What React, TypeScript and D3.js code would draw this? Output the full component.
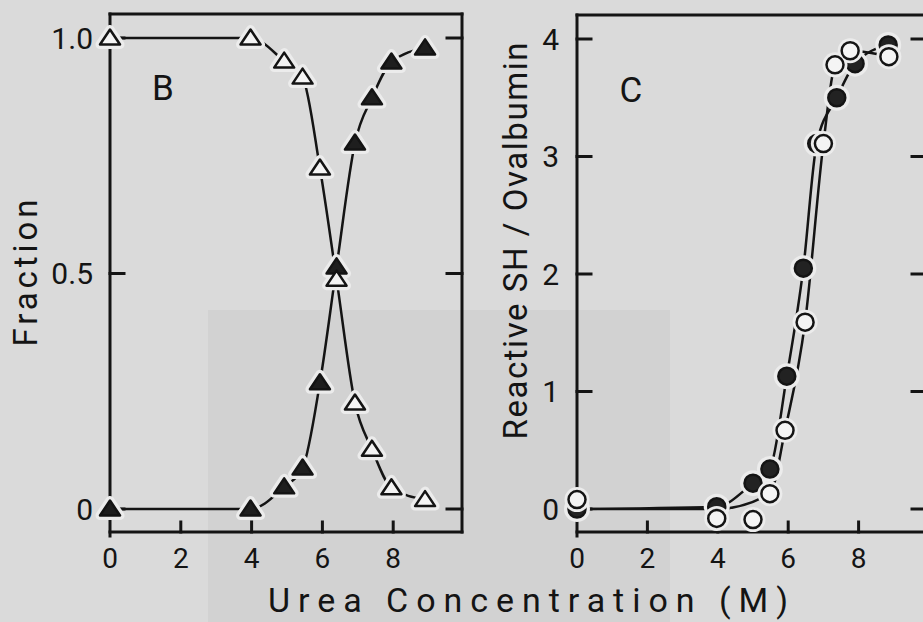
import React from "react";
import * as d3 from "d3";

const W = 923;
const H = 622;

// Panel B data (fraction vs urea)
const bX = [0, 3.97, 4.92, 5.44, 5.93, 6.4, 6.92, 7.4, 7.95, 8.9];
const bOpen = [1.0, 1.0, 0.951, 0.917, 0.724, 0.488, 0.225, 0.127, 0.045, 0.02];
const bFilled = [0, 0, 0.047, 0.087, 0.268, 0.514, 0.777, 0.873, 0.949, 0.979];

// Panel C data (reactive SH per ovalbumin)
const cFilledX = [0, 3.97, 5.0, 5.48, 5.96, 6.43, 6.81, 7.38, 7.9, 8.84];
const cFilled = [0, 0.02, 0.22, 0.34, 1.13, 2.05, 3.11, 3.5, 3.79, 3.95];
const cOpenX = [0, 3.97, 5.0, 5.48, 5.91, 6.48, 7.0, 7.33, 7.76, 8.86];
const cOpen = [0.08, -0.08, -0.09, 0.13, 0.67, 1.59, 3.11, 3.78, 3.9, 3.85];
// hand-drawn fit line for open circles
const cOpenLineX = [0, 3.97, 5.48, 5.91, 6.48, 7.0, 7.33, 7.76, 8.86];
const cOpenLine = [0, 0, 0.13, 0.67, 1.59, 3.11, 3.78, 3.9, 3.85];

const xTicks = [0, 2, 4, 6, 8];
const bYTicks = [0, 0.5, 1.0];
const bYTickLabels = ["0", "0.5", "1.0"];
const cYTicks = [0, 1, 2, 3, 4];

const FONT = "Roboto, 'DejaVu Sans', sans-serif";
const INK = "#141414";
const HALO = "#ececec";

function tri(cx: number, cy: number) {
  return `M${cx},${cy - 8.5} L${cx + 10},${cy + 6.5} L${cx - 10},${cy + 6.5} Z`;
}

export default function App() {
  const xB = d3.scaleLinear().domain([0, 10]).range([110, 464]);
  const yB = d3.scaleLinear().domain([0, 1]).range([509, 38]);
  const xC = d3.scaleLinear().domain([0, 10]).range([577, 929]);
  const yC = d3.scaleLinear().domain([0, 4]).range([509, 39]);

  const frameTop = 14;
  const frameBottom = 532;
  const bRight = 462;

  const lineB = d3
    .line<[number, number]>()
    .x((d) => xB(d[0]))
    .y((d) => yB(d[1]))
    .curve(d3.curveMonotoneX);
  const lineC = d3
    .line<[number, number]>()
    .x((d) => xC(d[0]))
    .y((d) => yC(d[1]))
    .curve(d3.curveMonotoneX);

  const bOpenPts: [number, number][] = bX.map((x, i) => [x, bOpen[i]]);
  const bFilledPts: [number, number][] = bX.map((x, i) => [x, bFilled[i]]);
  const cFilledPts: [number, number][] = cFilledX.map((x, i) => [x, cFilled[i]]);
  const cOpenPts: [number, number][] = cOpenX.map((x, i) => [x, cOpen[i]]);
  const cOpenLinePts: [number, number][] = cOpenLineX.map((x, i) => [x, cOpenLine[i]]);

  return (
    <div style={{ position: "fixed", left: 0, top: 0, width: W, height: H }}>
      <svg width={W} height={H} style={{ display: "block" }}>
        <rect x={0} y={0} width={W} height={H} fill="#dadada" />
        <rect x={208} y={310} width={462} height={312} fill="#d2d2d2" />

        {/* ===== Panel B ===== */}
        <g stroke={INK} strokeWidth={3} fill="none" strokeLinecap="square">
          <line x1={xB(0)} y1={frameTop} x2={xB(0)} y2={frameBottom + 4} />
          <line x1={xB(0)} y1={frameTop} x2={bRight} y2={frameTop} />
          <line x1={bRight} y1={frameTop} x2={bRight} y2={frameBottom} />
          <line x1={xB(0)} y1={frameBottom} x2={bRight} y2={frameBottom} />
          {xTicks.filter((t) => t > 0).map((t) => (
            <line key={t} x1={xB(t)} y1={frameBottom} x2={xB(t)} y2={frameBottom - 10} />
          ))}
          {bYTicks.map((t) => (
            <g key={t}>
              <line x1={xB(0)} y1={yB(t)} x2={xB(0) + 14} y2={yB(t)} />
              <line x1={bRight} y1={yB(t)} x2={bRight - 15} y2={yB(t)} />
            </g>
          ))}
        </g>
        <g fontFamily={FONT} fill={INK}>
          {bYTicks.map((t, i) => (
            <text key={t} x={93} y={yB(t)} dy="0.36em" textAnchor="end" fontSize={30}>
              {bYTickLabels[i]}
            </text>
          ))}
          {xTicks.map((t) => (
            <text key={t} x={xB(t)} y={568} textAnchor="middle" fontSize={28}>
              {t}
            </text>
          ))}
          <text x={163} y={100} textAnchor="middle" fontSize={35}>B</text>
          <text
            transform={`translate(37,273) rotate(-90)`}
            textAnchor="middle"
            fontSize={33}
            textLength={147}
            lengthAdjust="spacing"
          >
            Fraction
          </text>
        </g>
        <path d={lineB(bOpenPts) || ""} fill="none" stroke={INK} strokeWidth={2.5} />
        <path d={lineB(bFilledPts) || ""} fill="none" stroke={INK} strokeWidth={2.5} />
        {bFilledPts.map((p, i) => (
          <path key={"bfh" + i} d={tri(xB(p[0]), yB(p[1]))} fill={HALO} stroke={HALO} strokeWidth={9} strokeLinejoin="round" />
        ))}
        {bOpenPts.map((p, i) => (
          <path key={"boh" + i} d={tri(xB(p[0]), yB(p[1]))} fill={HALO} stroke={HALO} strokeWidth={9} strokeLinejoin="round" />
        ))}
        {bFilledPts.map((p, i) => (
          <path key={"bf" + i} d={tri(xB(p[0]), yB(p[1]))} fill="#1e1e1e" stroke={INK} strokeWidth={2.5} strokeLinejoin="round" />
        ))}
        {bOpenPts.map((p, i) => (
          <path key={"bo" + i} d={tri(xB(p[0]), yB(p[1]))} fill="#f4f4f4" stroke={INK} strokeWidth={2.5} strokeLinejoin="round" />
        ))}

        {/* ===== Panel C ===== */}
        <g stroke={INK} strokeWidth={3} fill="none" strokeLinecap="square">
          <line x1={xC(0)} y1={frameTop + 1} x2={xC(0)} y2={frameBottom + 4} />
          <line x1={xC(0)} y1={frameTop + 1} x2={W + 5} y2={frameTop + 1} />
          <line x1={xC(0)} y1={frameBottom} x2={W + 5} y2={frameBottom} />
          {xTicks.filter((t) => t > 0).map((t) => (
            <line key={t} x1={xC(t)} y1={frameBottom} x2={xC(t)} y2={frameBottom - 10} />
          ))}
          {cYTicks.map((t) => (
            <g key={t}>
              <line x1={xC(0)} y1={yC(t)} x2={xC(0) + 14} y2={yC(t)} />
              <line x1={912} y1={yC(t)} x2={W + 5} y2={yC(t)} />
            </g>
          ))}
        </g>
        <g fontFamily={FONT} fill={INK}>
          {cYTicks.map((t) => (
            <text key={t} x={559} y={yC(t)} dy="0.36em" textAnchor="end" fontSize={30}>
              {t}
            </text>
          ))}
          {xTicks.map((t) => (
            <text key={t} x={xC(t)} y={568} textAnchor="middle" fontSize={28}>
              {t}
            </text>
          ))}
          <text x={631} y={102} textAnchor="middle" fontSize={35}>C</text>
          <text
            transform={`translate(527,241) rotate(-90)`}
            textAnchor="middle"
            fontSize={33}
            textLength={397}
            lengthAdjust="spacing"
          >
            Reactive  SH / Ovalbumin
          </text>
          <text
            x={528}
            y={612}
            textAnchor="middle"
            fontSize={34}
            textLength={520}
            lengthAdjust="spacing"
          >
            Urea  Concentration  (M)
          </text>
        </g>
        <path d={lineC(cFilledPts) || ""} fill="none" stroke={INK} strokeWidth={2.5} />
        <path d={lineC(cOpenLinePts) || ""} fill="none" stroke={INK} strokeWidth={2.5} />
        {cFilledPts.map((p, i) => (
          <circle key={"cfh" + i} cx={xC(p[0])} cy={yC(p[1])} r={13} fill={HALO} />
        ))}
        {cFilledPts.map((p, i) => (
          <circle key={"cf" + i} cx={xC(p[0])} cy={yC(p[1])} r={8.5} fill="#222" stroke={INK} strokeWidth={2.5} />
        ))}
        {cOpenPts.map((p, i) => (
          <circle key={"coh" + i} cx={xC(p[0])} cy={yC(p[1])} r={12.5} fill={HALO} />
        ))}
        {cOpenPts.map((p, i) => (
          <circle key={"co" + i} cx={xC(p[0])} cy={yC(p[1])} r={8.5} fill="#f4f4f4" stroke={INK} strokeWidth={2.5} />
        ))}
      </svg>
    </div>
  );
}
